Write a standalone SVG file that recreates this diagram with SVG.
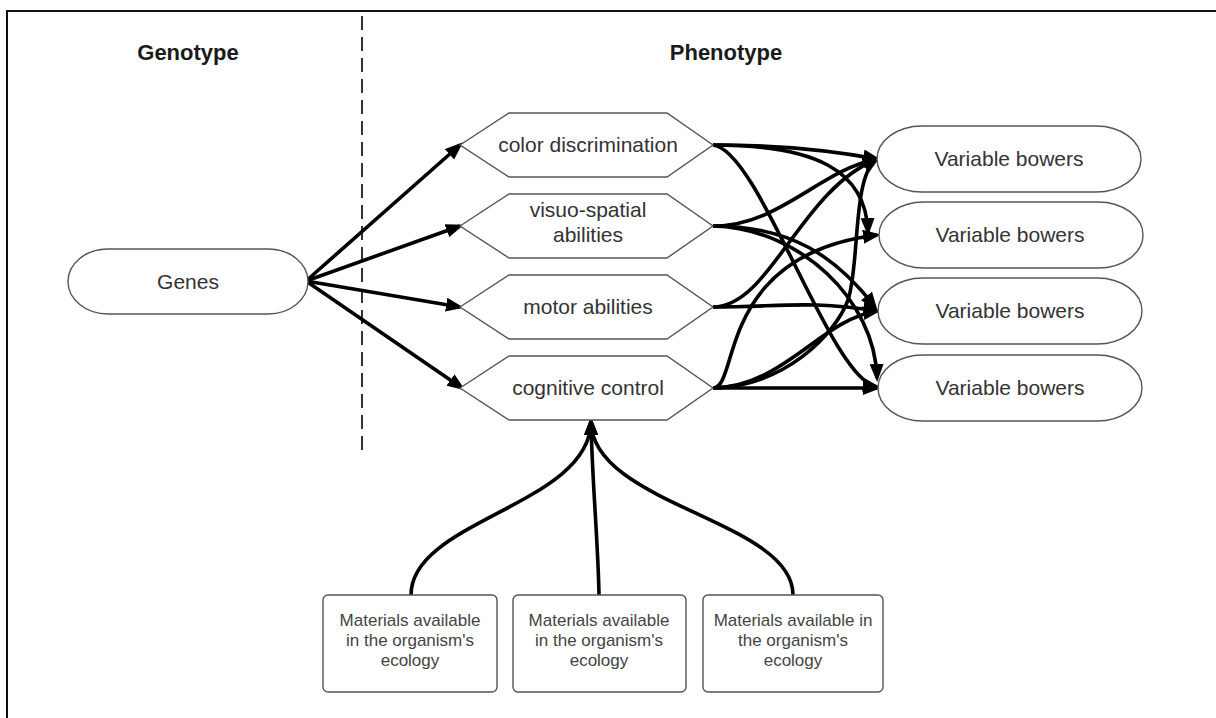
<svg xmlns="http://www.w3.org/2000/svg" width="1216" height="718" viewBox="0 0 1216 718">
<style>
.t{font-family:"Liberation Sans",Arial,sans-serif;font-size:21px;fill:#333;text-anchor:middle}
.h{font-family:"Liberation Sans",Arial,sans-serif;font-size:22px;font-weight:bold;fill:#1a1a1a;text-anchor:middle}
.s{font-family:"Liberation Sans",Arial,sans-serif;font-size:17px;fill:#444;text-anchor:middle}
.n{fill:#fff;stroke:#555;stroke-width:1.4}
.c{fill:none;stroke:#000;stroke-width:3.6;marker-end:url(#ah)}
</style>
<defs>
<marker id="ah" markerUnits="userSpaceOnUse" markerWidth="20" markerHeight="16" refX="14" refY="7" orient="auto">
<path d="M0,0 L18,7 L0,14 z" fill="#000"/>
</marker>
</defs>
<rect x="0" y="0" width="1216" height="718" fill="#fff"/>
<rect x="7" y="11" width="1230" height="730" fill="none" stroke="#111" stroke-width="2"/>
<text class="h" x="188" y="60">Genotype</text>
<text class="h" x="726" y="60">Phenotype</text>
<line x1="362" y1="16" x2="362" y2="453" stroke="#333" stroke-width="2" stroke-dasharray="14 7"/>

<g id="connectors">
<path class="c" d="M306,281 L460,145"/>
<path class="c" d="M306,281 L460,226"/>
<path class="c" d="M306,281 L460,307"/>
<path class="c" d="M306,281 L462,388"/>
<path class="c" d="M713,145 C780,145 830,150 877,159"/>
<path class="c" d="M713,145 C815,145 866,170 868,232"/>
<path class="c" d="M713,145 C760,150 830,380 877,387"/>
<path class="c" d="M713,226 C780,226 820,170 877,159"/>
<path class="c" d="M713,226 C790,226 835,255 875,307"/>
<path class="c" d="M713,226 C800,228 875,300 877,378"/>
<path class="c" d="M713,307 C780,307 810,300 877,311"/>
<path class="c" d="M713,307 C770,307 800,190 877,159"/>
<path class="c" d="M713,388 C740,388 715,255 877,235"/>
<path class="c" d="M713,388 C785,386 820,320 877,311"/>
<path class="c" d="M713,388 C785,386 835,335 848,300 C860,265 852,175 877,159"/>
<path class="c" d="M713,388 L877,388"/>
<path class="c" d="M411,595 C411,520 591,505 591,421"/>
<path class="c" d="M599,595 C598,540 592,480 591,421"/>
<path class="c" d="M793,595 C793,520 591,505 591,421"/>
</g>

<g id="genes"><rect class="n" x="68" y="249" width="240" height="65" rx="40" ry="32.5"/><text class="t" x="188" y="289">Genes</text></g>

<g id="color"><polygon class="n" points="460,145 509,113 667,113 713,145 667,177 509,177"/><text class="t" x="588" y="152">color discrimination</text></g>
<g id="visuo"><polygon class="n" points="460,226 509,194 667,194 713,226 667,258 509,258"/><text class="t" x="588" y="217">visuo-spatial</text><text class="t" x="588" y="242">abilities</text></g>
<g id="motor"><polygon class="n" points="460,307 509,275 667,275 713,307 667,339 509,339"/><text class="t" x="588" y="314">motor abilities</text></g>
<g id="cognitive"><polygon class="n" points="460,388 509,356 667,356 713,388 667,420 509,420"/><text class="t" x="588" y="395">cognitive control</text></g>

<g id="bower1"><rect class="n" x="877" y="126" width="264" height="66" rx="45" ry="33"/><text class="t" x="1009" y="166">Variable bowers</text></g>
<g id="bower2"><rect class="n" x="879" y="202" width="264" height="66" rx="45" ry="33"/><text class="t" x="1010" y="242">Variable bowers</text></g>
<g id="bower3"><rect class="n" x="878" y="278" width="264" height="66" rx="45" ry="33"/><text class="t" x="1010" y="318">Variable bowers</text></g>
<g id="bower4"><rect class="n" x="878" y="355" width="264" height="66" rx="45" ry="33"/><text class="t" x="1010" y="395">Variable bowers</text></g>

<g id="mat1"><rect class="n" x="323" y="595" width="174" height="97" rx="5"/><text class="s" x="410" y="626">Materials available</text><text class="s" x="410" y="646">in the organism's</text><text class="s" x="410" y="666">ecology</text></g>
<g id="mat2"><rect class="n" x="513" y="595" width="173" height="97" rx="5"/><text class="s" x="599" y="626">Materials available</text><text class="s" x="599" y="646">in the organism's</text><text class="s" x="599" y="666">ecology</text></g>
<g id="mat3"><rect class="n" x="703" y="595" width="180" height="97" rx="5"/><text class="s" x="793" y="626">Materials available in</text><text class="s" x="793" y="646">the organism's</text><text class="s" x="793" y="666">ecology</text></g>
</svg>
